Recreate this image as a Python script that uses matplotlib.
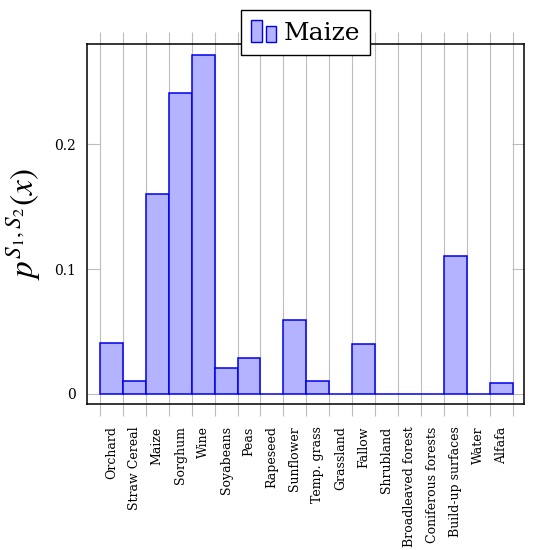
import numpy as np
import matplotlib
matplotlib.use("Agg")
import matplotlib.pyplot as plt
from matplotlib.legend_handler import HandlerBase
from matplotlib.patches import Rectangle, Patch
from matplotlib.ticker import FixedLocator

plt.rcParams['font.family'] = ['DejaVu Serif']
plt.rcParams['mathtext.fontset'] = 'stix'

categories = ["Orchard", "Straw Cereal", "Maize", "Sorghum", "Wine", "Soyabeans",
              "Peas", "Rapeseed", "Sunflower", "Temp. grass", "Grassland", "Fallow",
              "Shrubland", "Broadleaved forest", "Coniferous forests",
              "Build-up surfaces", "Water", "Alfafa"]
values = [0.0406, 0.0101, 0.160, 0.2413, 0.2715, 0.0206,
          0.0291, 0.0, 0.059, 0.0101, 0.0, 0.0398,
          0.0, 0.0, 0.0, 0.1108, 0.0, 0.0086]
yticks = [0, 0.1, 0.2]
ytick_labels = ["0", "0.1", "0.2"]

fill_color = "#b3b3ff"
edge_color = "#0000ee"
grid_color = "#bdbdbd"


class TwoBarHandler(HandlerBase):
    # pgfplots style ybar legend image: two little bars
    def create_artists(self, legend, orig_handle, xdescent, ydescent,
                       width, height, fontsize, trans):
        x0, y0 = -xdescent, -ydescent
        w1 = width * 0.43
        gap = width * 0.16
        w2 = width * 0.41
        r1 = Rectangle((x0, y0), w1, height, facecolor=fill_color,
                       edgecolor=edge_color, lw=1.0, transform=trans)
        r2 = Rectangle((x0 + w1 + gap, y0), w2, height * 0.74, facecolor=fill_color,
                       edgecolor=edge_color, lw=1.0, transform=trans)
        return [r1, r2]


fig = plt.figure(figsize=(5.39, 5.50), dpi=100)
ax = fig.add_axes([0.162, 0.265, 0.811, 0.6545])

x = np.arange(len(categories))
ax.bar(x, values, width=1.0, color=fill_color, edgecolor=edge_color,
       linewidth=1.1, zorder=3)

ax.set_xlim(-1.054, len(categories) + 0.015)
ax.set_ylim(-0.00825, 0.2801)

# labels at bar centres, grid and tick marks at bar edges
ax.set_xticks(x)
ax.set_xticklabels(categories, rotation=90, fontsize=9, va="top", ha="center")
ax.tick_params(axis="x", which="major", length=0, pad=16)
ax.xaxis.set_minor_locator(FixedLocator(np.arange(len(categories) + 1) - 0.5))
ax.tick_params(axis="x", which="minor", direction="out", length=8.5, width=0.8,
               color=grid_color, top=True, bottom=True)
ax.grid(True, axis="x", which="minor", color=grid_color, linewidth=0.8, zorder=0)
ax.set_axisbelow(True)

ax.set_yticks(yticks)
ax.set_yticklabels(ytick_labels, fontsize=10)
ax.tick_params(axis="y", direction="in", length=9, width=0.8, color=grid_color,
               left=True, right=True, pad=8)

for sp in ax.spines.values():
    sp.set_linewidth(1.1)
    sp.set_color("black")

ax.set_ylabel(r"$p^{S_1,S_2}(x)$", fontsize=24, labelpad=8)

handle = Patch(facecolor=fill_color, edgecolor=edge_color)
leg = ax.legend([handle], ["Maize"], handler_map={Patch: TwoBarHandler()},
                loc="center", bbox_to_anchor=(0.5, 1.033), fontsize=18,
                frameon=True, fancybox=False, edgecolor="black", framealpha=1,
                handlelength=1.0, handleheight=0.95, handletextpad=0.3,
                borderpad=0.4, borderaxespad=0)
leg.get_frame().set_linewidth(1.0)

fig.savefig("out.png", dpi=100)
